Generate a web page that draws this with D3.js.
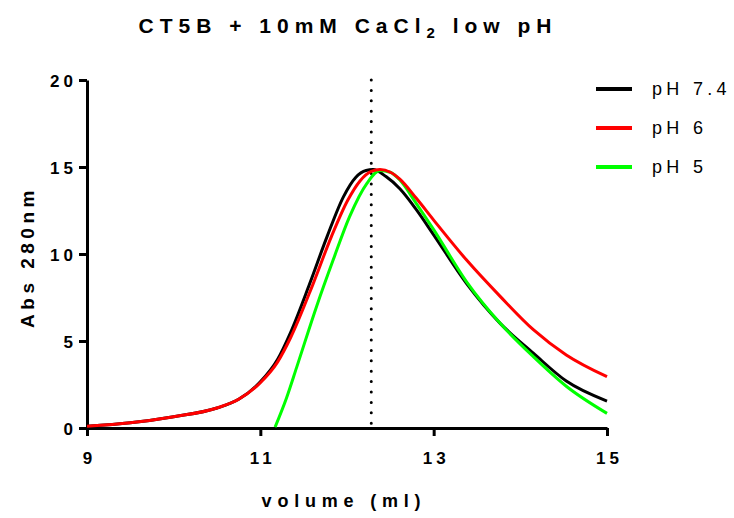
<!DOCTYPE html>
<html>
<head>
<meta charset="utf-8">
<script src="https://cdn.jsdelivr.net/npm/d3@7"></script>
<style>
  body { margin: 0; background: #fff; }
  svg { display: block; font-family: "Liberation Sans", Arial, sans-serif; }
</style>
</head>
<body>
<svg id="chart" width="734" height="518"></svg>
<script>
(function() {
  'use strict';

  // elution volumes (ml) and absorbance readings
  var vol74 = [9, 9.5, 10, 10.5, 10.75, 11, 11.2, 11.35, 11.57, 11.77, 11.96, 12.1, 12.22, 12.3, 12.45, 12.61, 12.8, 13.0, 13.38, 13.77, 14.15, 14.53, 15];
  var abs74 = [0.1, 0.3, 0.65, 1.15, 1.65, 2.65, 3.95, 5.5, 8.3, 11.0, 13.3, 14.4, 14.8, 14.85, 14.45, 13.75, 12.55, 11.1, 8.3, 6.0, 4.3, 2.7, 1.55];

  var vol6 = [9, 9.5, 10, 10.5, 10.75, 11, 11.2, 11.35, 11.61, 11.82, 12.01, 12.15, 12.28, 12.38, 12.5, 12.61, 12.8, 13.0, 13.38, 13.77, 14.15, 14.53, 15];
  var abs6 = [0.1, 0.3, 0.65, 1.15, 1.65, 2.6, 3.8, 5.2, 8.3, 11.0, 13.1, 14.2, 14.75, 14.85, 14.7, 14.3, 13.2, 11.95, 9.65, 7.55, 5.65, 4.2, 2.95];

  var vol5 = [11.17, 11.3, 11.42, 11.65, 11.84, 12.03, 12.23, 12.38, 12.5, 12.61, 12.8, 13.0, 13.38, 13.77, 14.15, 14.53, 15];
  var abs5 = [0.05, 1.7, 3.5, 7.0, 9.65, 12.15, 14.06, 14.8, 14.7, 14.25, 12.9, 11.4, 8.4, 6.0, 4.1, 2.4, 0.84];

  var seriesNames = ['pH 7.4', 'pH 6', 'pH 5'];
  var seriesColors = ['#000000', '#ff0000', '#00ff00'];
  var xTicks = [9, 11, 13, 15];
  var yTicks = [0, 5, 10, 15, 20];
  var peakMarker = 12.28;

  var svg = d3.select('#chart');
  var x = d3.scaleLinear().domain([9, 15]).range([87, 607]);
  var y = d3.scaleLinear().domain([0, 20]).range([428, 80]);

  function zip(vs, as) {
    return vs.map(function(v, i) { return {v: v, a: as[i]}; });
  }
  var series = [zip(vol74, abs74), zip(vol6, abs6), zip(vol5, abs5)];

  var line = d3.line()
      .x(function(d) { return x(d.v); })
      .y(function(d) { return y(d.a); })
      .curve(d3.curveMonotoneX);

  var tickSpacing = 4;

  // title
  var title = svg.append('text')
      .attr('x', 348)
      .attr('y', 33)
      .attr('text-anchor', 'middle')
      .attr('font-size', 21)
      .attr('font-weight', 'bold')
      .attr('letter-spacing', 6);
  title.append('tspan').text('CT5B + 10mM CaCl');
  title.append('tspan').attr('font-size', 15).attr('dy', 5).text('2');
  title.append('tspan').attr('dy', -5).text(' low pH');

  // axes
  var yAxis = svg.append('g')
      .attr('transform', 'translate(87,0)')
      .call(d3.axisLeft(y).tickValues(yTicks).tickSize(8).tickSizeOuter(0).tickPadding(2));
  var xAxis = svg.append('g')
      .attr('transform', 'translate(0,428)')
      .call(d3.axisBottom(x).tickValues(xTicks).tickFormat(d3.format('d'))
        .tickSize(8).tickSizeOuter(0).tickPadding(16));

  [xAxis, yAxis].forEach(function(ax) {
    ax.select('.domain').attr('stroke', '#000').attr('stroke-width', 3);
    ax.selectAll('.tick line').attr('stroke', '#000').attr('stroke-width', 3);
    ax.selectAll('.tick text')
      .attr('fill', '#000')
      .attr('font-family', '"Liberation Sans", Arial, sans-serif')
      .attr('font-size', 17)
      .attr('font-weight', 'bold')
      .attr('letter-spacing', tickSpacing);
  });
  yAxis.selectAll('.tick text').attr('dy', '0.36em');
  xAxis.selectAll('.tick text').attr('dx', tickSpacing / 2);

  svg.append('text')
      .attr('transform', 'translate(34,' + 257 + ') rotate(-90)')
      .attr('text-anchor', 'middle')
      .attr('font-size', 19)
      .attr('font-weight', 'bold')
      .attr('letter-spacing', 4.5)
      .text('Abs 280nm');

  svg.append('text')
      .attr('x', 344)
      .attr('y', 507)
      .attr('text-anchor', 'middle')
      .attr('font-size', 18)
      .attr('font-weight', 'bold')
      .attr('letter-spacing', 5.8)
      .text('volume (ml)');

  // dotted marker at the peak volume
  svg.append('line')
      .attr('x1', x(peakMarker)).attr('x2', x(peakMarker))
      .attr('y1', y(20)).attr('y2', y(0))
      .attr('stroke', '#000')
      .attr('stroke-width', 3)
      .attr('stroke-linecap', 'round')
      .attr('stroke-dasharray', '0,10.4');

  // traces: black, green, red (red ends on top)
  [0, 2, 1].forEach(function(i) {
    svg.append('path')
        .datum(series[i])
        .attr('fill', 'none')
        .attr('stroke', seriesColors[i])
        .attr('stroke-width', 3)
        .attr('stroke-linejoin', 'round')
        .attr('d', line);
  });

  // legend
  var legend = svg.append('g');
  seriesNames.forEach(function(name, i) {
    var ly = 89 + i * 39;
    legend.append('line')
        .attr('x1', 596).attr('x2', 632)
        .attr('y1', ly).attr('y2', ly)
        .attr('stroke', seriesColors[i])
        .attr('stroke-width', 4);
    legend.append('text')
        .attr('x', 652)
        .attr('y', ly)
        .attr('dy', '0.36em')
        .attr('font-size', 18)
        .attr('letter-spacing', 4.3)
        .text(name);
  });
}());
</script>
</body>
</html>
